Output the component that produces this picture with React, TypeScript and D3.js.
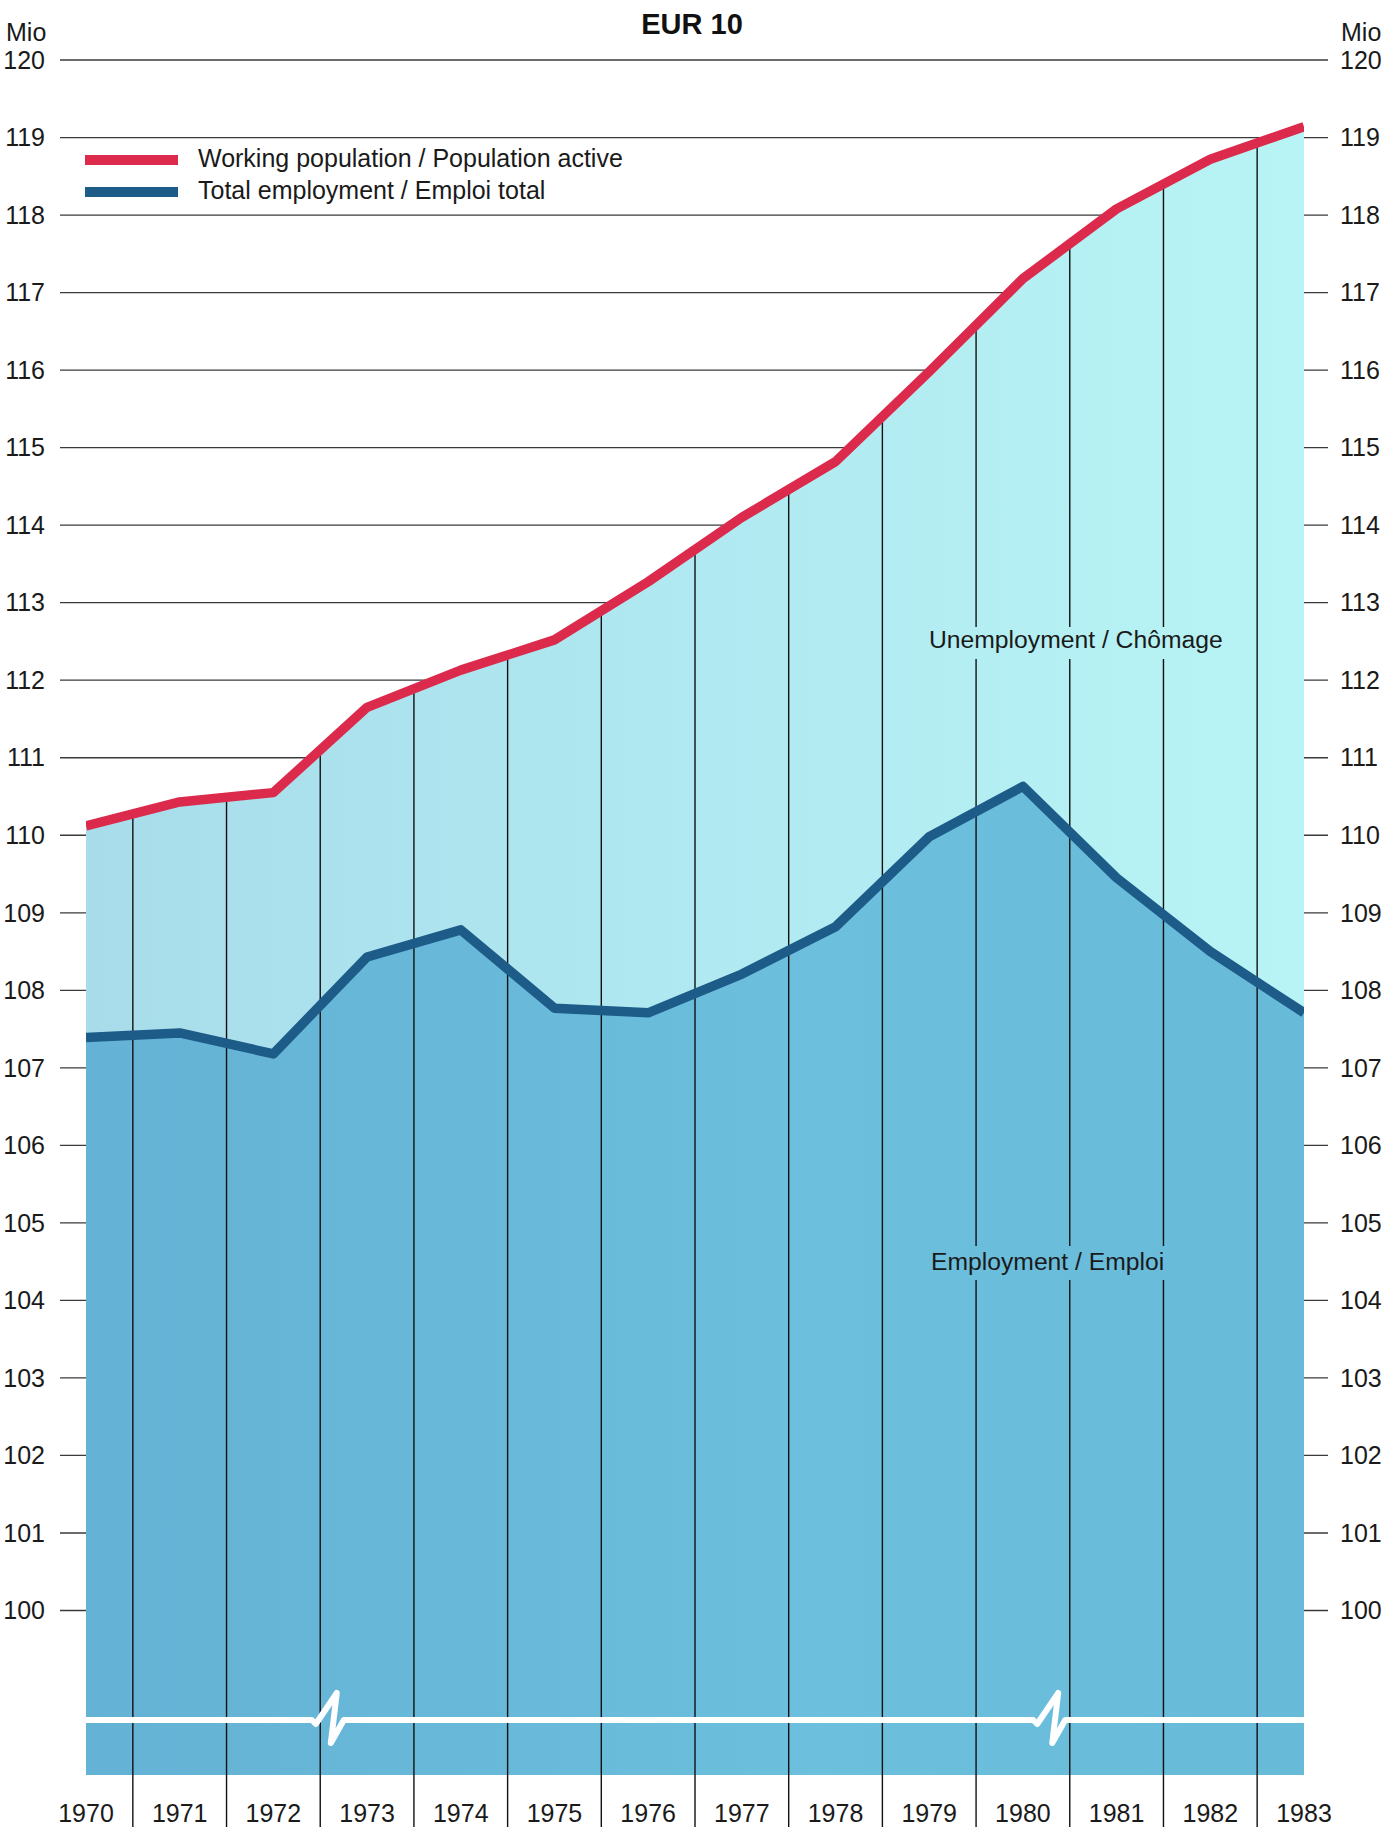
import React from "react";
import * as d3 from "d3";

const years = [1970, 1971, 1972, 1973, 1974, 1975, 1976, 1977, 1978, 1979, 1980, 1981, 1982, 1983];
const workingPopulation = [110.12, 110.43, 110.55, 111.65, 112.13, 112.52, 113.27, 114.1, 114.82, 115.98, 117.18, 118.08, 118.72, 119.14];
const totalEmployment = [107.39, 107.45, 107.18, 108.43, 108.78, 107.77, 107.71, 108.21, 108.82, 109.98, 110.63, 109.45, 108.5, 107.71];
const yTicks = [100, 101, 102, 103, 104, 105, 106, 107, 108, 109, 110, 111, 112, 113, 114, 115, 116, 117, 118, 119, 120];
const breakYears = [1972.41, 1980.11];
const title = "EUR 10";
const unitLabel = "Mio";
const legendItems = ["Working population / Population active", "Total employment / Emploi total"];
const areaLabels = ["Unemployment / Chômage", "Employment / Emploi"];

const W = 1400;
const H = 1827;
const FONT = "'Liberation Sans', Arial, Helvetica, sans-serif";

export default function App() {
  const x = d3.scaleLinear().domain([1970, 1983]).range([86, 1304]);
  const y = d3.scaleLinear().domain([100, 120]).range([1610.5, 60]);
  const plotBottom = 1775;
  const breakY = 1720;
  const gridLeft = 60;
  const gridRight = 1328;

  const rows = years.map((yr, i) => ({ yr, w: workingPopulation[i], e: totalEmployment[i] }));

  const unempArea = d3
    .area<any>()
    .x((d) => x(d.yr))
    .y0((d) => y(d.e))
    .y1((d) => y(d.w))(rows) as string;
  const empArea = d3
    .area<any>()
    .x((d) => x(d.yr))
    .y0(() => plotBottom)
    .y1((d) => y(d.e))(rows) as string;
  const redLine = d3
    .line<any>()
    .x((d) => x(d.yr))
    .y((d) => y(d.w))(rows) as string;
  const blueLine = d3
    .line<any>()
    .x((d) => x(d.yr))
    .y((d) => y(d.e))(rows) as string;

  const dividers = years.slice(0, -1).map((yr, i) => {
    const mid = (workingPopulation[i] + workingPopulation[i + 1]) / 2;
    return { xp: x(yr + 0.5), top: y(mid) };
  });

  let bp = `M${x(1970)},${breakY}`;
  breakYears.forEach((b) => {
    const sx = x(b);
    bp += ` H${sx} L${sx + 4},${breakY + 4} L${sx + 25},${breakY - 27} L${sx + 19},${breakY + 23} L${sx + 32},${breakY}`;
  });
  bp += ` H${x(1983)}`;

  return (
    <svg
      width={W}
      height={H}
      style={{ position: "absolute", left: 0, top: 0, background: "#fff" }}
      fontFamily={FONT}
    >
      <defs>
        <linearGradient id="gLight" gradientUnits="userSpaceOnUse" x1={x(1970)} x2={x(1983)} y1={0} y2={0}>
          <stop offset="0" stopColor="#a8dcea" />
          <stop offset="0.5" stopColor="#b0e9f1" />
          <stop offset="1" stopColor="#b8f4f5" />
        </linearGradient>
        <linearGradient id="gDark" gradientUnits="userSpaceOnUse" x1={x(1970)} x2={x(1983)} y1={0} y2={0}>
          <stop offset="0" stopColor="#64b2d5" />
          <stop offset="0.6" stopColor="#6cbfdd" />
          <stop offset="1" stopColor="#68bad9" />
        </linearGradient>
        <clipPath id="plotClip">
          <rect x={x(1970)} y={0} width={x(1983) - x(1970)} height={H} />
        </clipPath>
      </defs>

      {yTicks.map((t) => (
        <line key={t} x1={gridLeft} x2={gridRight} y1={y(t)} y2={y(t)} stroke="#3a3a3a" strokeWidth={1.3} />
      ))}

      <path d={unempArea} fill="url(#gLight)" />
      <path d={empArea} fill="url(#gDark)" />

      {dividers.map((d, i) => (
        <line key={i} x1={d.xp} x2={d.xp} y1={d.top} y2={H} stroke="#111" strokeWidth={1.4} />
      ))}

      <rect x={926} y={627} width={300} height={32} fill="url(#gLight)" />
      <rect x={926} y={1246} width={244} height={34} fill="url(#gDark)" />

      <g clipPath="url(#plotClip)">
        <path d={redLine} fill="none" stroke="#dc2a4c" strokeWidth={9.5} strokeLinejoin="round" />
        <path d={blueLine} fill="none" stroke="#1d5b89" strokeWidth={9.5} strokeLinejoin="round" />
      </g>

      <path d={bp} fill="none" stroke="#ffffff" strokeWidth={6} strokeLinejoin="round" strokeLinecap="round" />

      <text x={692} y={34} textAnchor="middle" fontSize={29} fontWeight="bold" fill="#111">
        {title}
      </text>

      <text x={6} y={41} fontSize={25} fill="#1a1a1a">
        {unitLabel}
      </text>
      <text x={1341} y={41} fontSize={25} fill="#1a1a1a">
        {unitLabel}
      </text>

      {yTicks.map((t) => (
        <g key={t}>
          <text x={45} y={y(t)} dy="0.35em" textAnchor="end" fontSize={25} fill="#1a1a1a">
            {t}
          </text>
          <text x={1340} y={y(t)} dy="0.35em" textAnchor="start" fontSize={25} fill="#1a1a1a">
            {t}
          </text>
        </g>
      ))}

      {years.map((yr) => (
        <text key={yr} x={x(yr)} y={1822} textAnchor="middle" fontSize={25} fill="#1a1a1a">
          {yr}
        </text>
      ))}

      <rect x={85} y={155} width={93} height={10} fill="#dc2a4c" />
      <rect x={85} y={187} width={93} height={10} fill="#1d5b89" />
      <text x={198} y={167} fontSize={25} fill="#1a1a1a">
        {legendItems[0]}
      </text>
      <text x={198} y={199} fontSize={25} fill="#1a1a1a">
        {legendItems[1]}
      </text>

      <text x={929} y={648} fontSize={24.7} fill="#1a1a1a">
        {areaLabels[0]}
      </text>
      <text x={931} y={1270} fontSize={24.7} fill="#1a1a1a">
        {areaLabels[1]}
      </text>
    </svg>
  );
}
